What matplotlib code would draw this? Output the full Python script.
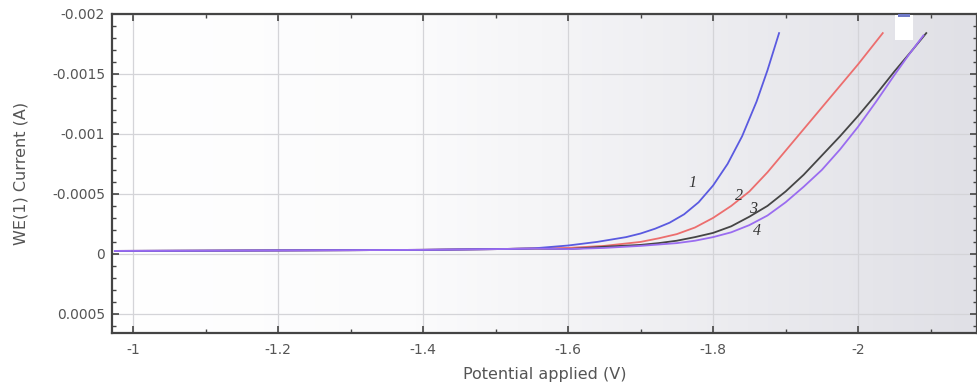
import matplotlib
matplotlib.use("Agg")
import matplotlib.pyplot as plt
import numpy as np
from matplotlib.ticker import MultipleLocator, FuncFormatter
from matplotlib.patches import Rectangle
from matplotlib.colors import LinearSegmentedColormap

plt.rcParams['font.family'] = ['DejaVu Sans']

# ---- data (potential V, current A) ----
base_x = [-0.975, -1.1, -1.2, -1.3, -1.4, -1.5, -1.55]
base_y = [-0.000025, -0.000027, -0.000029, -0.000031, -0.000034, -0.00004, -0.000045]

x1 = base_x + [-1.6, -1.64, -1.68, -1.7, -1.72, -1.74, -1.76, -1.78, -1.8, -1.82,
               -1.84, -1.86, -1.875, -1.891]
y1 = base_y + [-0.00007, -0.0001, -0.00014, -0.00017, -0.00021, -0.00026, -0.00033,
               -0.00043, -0.00057, -0.00075, -0.00098, -0.00127, -0.00153, -0.00184]

x2 = base_x + [-1.6, -1.65, -1.7, -1.725, -1.75, -1.775, -1.8, -1.825, -1.85, -1.875,
               -1.9, -1.925, -1.95, -1.975, -2.0, -2.034]
y2 = base_y + [-0.00005, -0.000067, -0.0001, -0.00013, -0.000165, -0.00022, -0.0003,
               -0.0004, -0.00052, -0.00068, -0.00086, -0.00104, -0.00122, -0.0014,
               -0.00158, -0.00184]

x3 = base_x + [-1.6, -1.65, -1.7, -1.725, -1.75, -1.775, -1.8, -1.825, -1.85, -1.875,
               -1.9, -1.925, -1.95, -1.975, -2.0, -2.025, -2.05, -2.075, -2.094]
y3 = base_y + [-0.00004, -0.00006, -0.000075, -0.00009, -0.00011, -0.00014, -0.000175,
               -0.00023, -0.00031, -0.0004, -0.00052, -0.00066, -0.00082, -0.00098,
               -0.00115, -0.00133, -0.00152, -0.0017, -0.00184]

x4 = base_x + [-1.6, -1.65, -1.7, -1.75, -1.775, -1.8, -1.825, -1.85, -1.875, -1.9,
               -1.925, -1.95, -1.975, -2.0, -2.025, -2.05, -2.07, -2.09]
y4 = base_y + [-0.00004, -0.00005, -0.000067, -0.00009, -0.00011, -0.00014, -0.00018,
               -0.00024, -0.00032, -0.00043, -0.00056, -0.0007, -0.00087, -0.00106,
               -0.00127, -0.00149, -0.00166, -0.00182]

curve_labels = ["1", "2", "3", "4"]
label_x = [-1.771, -1.836, -1.855, -1.861]
label_y = [-0.00059, -0.00048, -0.000375, -0.00019]

xticks = [-1, -1.2, -1.4, -1.6, -1.8, -2]
yticks = [-0.002, -0.0015, -0.001, -0.0005, 0, 0.0005]

colors = ["#5a5ae0", "#ec6e6e", "#454545", "#9a6cf0"]

fig = plt.figure(figsize=(9.78, 3.86), dpi=100)
ax = fig.add_axes([0.1145, 0.137, 0.8845, 0.827])

# background gradient
cmap = LinearSegmentedColormap.from_list("bg", [(0, "#ffffff"), (0.35, "#fbfbfc"), (1, "#e0e0e6")])
grad = np.linspace(0, 1, 256).reshape(1, -1)
ax.imshow(grad, cmap=cmap, aspect="auto", extent=[0, 1, 0, 1], transform=ax.transAxes, zorder=0)

ax.set_xlim(-0.971, -2.164)
ax.set_ylim(0.00066, -0.002)

ax.grid(True, color="#d4d4d8", linewidth=0.9, zorder=1)
ax.set_axisbelow(True)

for xs, ys, c, z in zip([x1, x2, x3, x4], [y1, y2, y3, y4], colors, [4, 3, 3.5, 5]):
    ax.plot(xs, ys, color=c, linewidth=1.3, zorder=z, solid_joinstyle="round")

for t, lx, ly in zip(curve_labels, label_x, label_y):
    ax.text(lx, ly, t, family=["Liberation Serif", "DejaVu Serif"], style="italic",
            fontsize=11.5, color="#333333", ha="center", va="center", zorder=6)

# white box near top (covered legend)
ax.add_patch(Rectangle((0.905, 0.918), 0.021, 0.079, transform=ax.transAxes,
                       facecolor="white", edgecolor="none", zorder=7))
ax.add_patch(Rectangle((0.909, 0.99), 0.014, 0.01, transform=ax.transAxes,
                       facecolor="#6f79c8", edgecolor="none", zorder=7))

ax.set_xticks(xticks)
ax.set_yticks(yticks)
ax.xaxis.set_minor_locator(MultipleLocator(0.1))
ax.yaxis.set_minor_locator(MultipleLocator(0.0001))
fmt = FuncFormatter(lambda v, p: "0" if abs(v) < 1e-12 else "%g" % v)
ax.xaxis.set_major_formatter(fmt)
ax.yaxis.set_major_formatter(fmt)

ax.tick_params(which="both", direction="in", top=True, right=True, colors="#444444",
               labelcolor="#555555", labelsize=10)
ax.tick_params(which="major", length=5, width=1.2)
ax.tick_params(which="minor", length=3, width=1.0)
ax.tick_params(axis="x", pad=7)
ax.tick_params(axis="y", pad=5)

for s in ax.spines.values():
    s.set_color("#444444")
    s.set_linewidth(1.6)

ax.set_xlabel("Potential applied (V)", fontsize=11.5, color="#555555")
ax.set_ylabel("WE(1) Current (A)", fontsize=11.5, color="#555555")
ax.xaxis.set_label_coords(0.5, -0.105)
ax.yaxis.set_label_coords(-0.097, 0.5)

fig.savefig("out.png", dpi=100)
